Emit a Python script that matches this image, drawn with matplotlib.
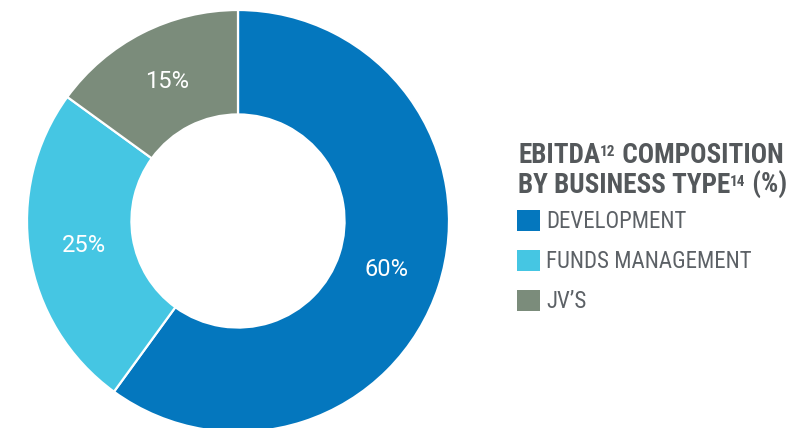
import numpy as np
import matplotlib
matplotlib.use('Agg')
import matplotlib.pyplot as plt

# EBITDA split by business type (%)
segments = ['DEVELOPMENT', 'FUNDS MANAGEMENT', "JV\u2019S"]
shares = [60, 25, 15]
colors = ['#0477BE', '#45C6E3', '#7B8C7B']

plt.rcParams['font.family'] = ['Roboto Condensed', 'DejaVu Sans']

W, H = 789, 428
fig = plt.figure(figsize=(W / 100, H / 100), dpi=100)

# donut: centre (238, 221) px, outer radius 211 px
cx, cy, r = 238, 221, 211
ax = fig.add_axes([(cx - r) / W, (H - cy - r) / H, 2 * r / W, 2 * r / H])

wedges, _, autotexts = ax.pie(
    shares, colors=colors, startangle=90, counterclock=False, radius=1,
    autopct='%d%%', pctdistance=0.74,
    wedgeprops=dict(width=0.495, edgecolor='white', linewidth=1.6),
    textprops=dict(color='white', fontsize=17, family='Roboto'))
ax.set_xlim(-1, 1)
ax.set_ylim(-1, 1)
ax.set_aspect('equal')
ax.axis('off')

# title with footnote superscripts, laid out run by run
title_color = '#54585B'
renderer = fig.canvas.get_renderer()


def text_runs(x_px, base_px, parts):
    x = x_px
    for s, size, rise in parts:
        t = fig.text(x / W, 1 - (base_px - rise) / H, s, fontsize=size,
                     fontweight='bold', color=title_color, va='baseline', ha='left')
        x = t.get_window_extent(renderer).x1


text_runs(518, 163, [('EBITDA', 19.5, 0), ('12', 11, 7), (' COMPOSITION', 19.5, 0)])
text_runs(518, 193, [('BY BUSINESS TYPE', 19.5, 0), ('14', 11, 7), (' (%)', 19.5, 0)])

leg = fig.legend(wedges, segments, loc='upper left',
                 bbox_to_anchor=(517 / W, 1 - 210 / H), frameon=False,
                 fontsize=16.5, handlelength=1.0, handleheight=1.0,
                 handletextpad=0.28, labelspacing=0.74, borderpad=0, borderaxespad=0)
for t in leg.get_texts():
    t.set_color('#5C6166')
for h in leg.legend_handles:
    h.set_edgecolor('none')

fig.savefig('out.png', dpi=100)
